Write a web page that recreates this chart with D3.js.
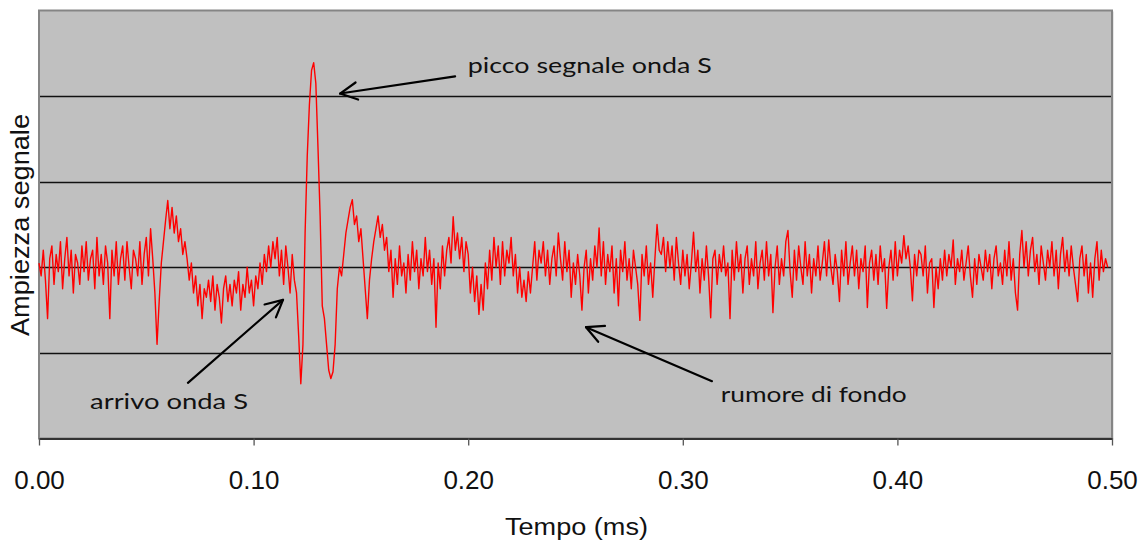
<!DOCTYPE html>
<html>
<head>
<meta charset="utf-8">
<script src="https://cdn.jsdelivr.net/npm/d3@7"></script>
<style>
  html, body { margin: 0; padding: 0; background: #fff; }
  svg { display: block; }
</style>
</head>
<body>
<svg id="chart" width="1146" height="545"></svg>
<script>
// ---------- data ----------
const sampleStep = 0.001; // ms between samples
const amplitude = [
  0.05, -0.1, 0.2, -0.15, -0.6, 0.1, 0.25, -0.2, 0.15, -0.05,
  0.3, -0.25, 0.1, 0.35, -0.1, 0.2, -0.3, 0.15, 0.05, -0.2,
  0.25, -0.05, 0.3, -0.15, 0.1, 0.2, -0.25, 0.35, -0.1, 0.15,
  -0.2, 0.25, 0.05, -0.6, 0.2, -0.1, 0.3, -0.2, 0.1, 0.25,
  -0.15, 0.3, 0.0, -0.25, 0.2, 0.1, -0.1, 0.3, -0.2, 0.15,
  0.35, -0.1, 0.45, 0.1, -0.3,
  -0.9, -0.4, 0.05, 0.3, 0.55,
  0.78, 0.45, 0.7, 0.4, 0.6, 0.3, 0.45, 0.15, 0.3,
  0.1, -0.15, 0.05, -0.3, -0.1, -0.45, -0.2, -0.6, -0.25, -0.35, -0.15,
  -0.4, -0.1, -0.5, -0.2, -0.35, -0.65, -0.25, -0.1, -0.4, -0.2,
  -0.45, -0.15, -0.3, -0.05, -0.5, -0.2, -0.35, 0.0, -0.3, -0.15,
  -0.45, -0.1, -0.25, 0.05, -0.2, 0.15, -0.05, 0.25, 0.0, 0.3,
  0.1, 0.35, -0.1, 0.2, -0.2, 0.25, 0.0, -0.3, 0.15, -0.15,
  -0.3, -0.8, -1.36, -0.9, 0.4, 1.3, 1.9, 2.3, 2.39, 2.15,
  1.4, 0.6, -0.45, -0.6, -0.9, -1.2, -1.3, -1.22, -0.9, -0.25,
  0.0, -0.1, 0.15, 0.4, 0.55, 0.7, 0.79, 0.5, 0.6, 0.3,
  0.45, 0.1, -0.25, -0.6, -0.15, 0.1, 0.3, 0.45, 0.6, 0.35,
  0.5, 0.2, 0.35, -0.05,
  0.2, -0.35, 0.1, -0.2, 0.25, -0.1, 0.05, -0.3, 0.15, -0.15, 0.3, -0.05, 0.2, -0.25, 0.1, -0.1,
  0.35, -0.05, 0.2, -0.2, 0.1, -0.7, 0.05, -0.25, 0.25, -0.1,
  0.2, 0.35, 0.05, 0.59, 0.2, 0.4, 0.1, 0.35, -0.05, 0.3,
  0.15, -0.3, 0.0, -0.4, -0.1, -0.55, -0.2, -0.5, 0.05, -0.25,
  0.2, -0.15, 0.35, 0.0, 0.25, -0.2, 0.3, -0.1, 0.2, 0.05,
  0.35, -0.1, 0.15, -0.3, 0.0, -0.35, -0.15, -0.4, -0.05, -0.3,
  0.0, 0.3, -0.15, 0.2, 0.05, 0.3, -0.1, 0.2, -0.2, 0.1,
  0.25, -0.1, 0.4, 0.1, -0.15, 0.3, -0.05, 0.2, -0.35, 0.05,
  -0.2, 0.15, -0.1, -0.5, 0.0, 0.2, -0.3, 0.1, -0.15, 0.25,
  0.0, 0.46, -0.1, 0.3, -0.2, 0.15, -0.05, 0.25, -0.3, 0.1,
  -0.45, 0.2, -0.05, 0.3, -0.15, 0.1, -0.25, 0.2, 0.0, -0.2,
  -0.62, 0.15, -0.1, 0.25, -0.2, 0.05, -0.35, 0.1, 0.5, 0.2,
  0.15, 0.35, -0.05, 0.3, 0.0, 0.25, -0.15, 0.35, 0.05, -0.2,
  0.2, -0.1, 0.15, -0.25, 0.05, 0.41, -0.05, 0.2, -0.3, 0.1,
  -0.15, 0.25, -0.1, -0.59, 0.1, 0.2, -0.2, 0.15, -0.05, 0.25,
  -0.1, 0.05, -0.6, 0.2, -0.15, 0.3, -0.05, 0.15, -0.3, 0.1,
  0.25, -0.2, 0.1, -0.1, 0.3, -0.25, 0.05, 0.2, -0.15, 0.3,
  -0.1, 0.15, -0.53, 0.0, 0.25, -0.2, 0.1, -0.1, 0.3, 0.43,
  -0.05, -0.35, 0.2, -0.15, 0.25, 0.0, -0.2, 0.3, -0.1, 0.15,
  -0.3, 0.1, -0.1, 0.25, -0.15, 0.05, 0.3, -0.1, 0.32, 0.0,
  -0.2, 0.15, -0.05, -0.4, 0.2, -0.1, 0.3, -0.2, 0.05, 0.25,
  -0.1, 0.2, -0.25, 0.1, -0.05, 0.25, -0.47, 0.05, 0.2, -0.15,
  0.15, -0.2, 0.25, -0.05, 0.1, -0.48, 0.0, 0.2, -0.15, 0.3,
  -0.1, 0.2, 0.05, 0.37, 0.1, 0.25, 0.0, -0.39, 0.15, -0.1,
  0.2, 0.15, -0.1, 0.25, -0.3, 0.05, 0.1, -0.47, 0.0, -0.25,
  0.1, -0.15, 0.2, -0.1, 0.15, 0.0, 0.32, -0.2, 0.1, -0.05,
  0.2, -0.15, 0.05, 0.25, -0.1, -0.35, 0.1, -0.2, 0.15, 0.0,
  -0.15, 0.2, -0.05, 0.15, -0.25, 0.1, 0.25, -0.1, 0.05, -0.2,
  0.2, -0.1, 0.3, -0.15, 0.1, -0.3, -0.5, 0.15, 0.43, 0.0,
  0.3, -0.1, 0.2, 0.35, -0.05, 0.15, -0.2, 0.25, 0.05, -0.15,
  0.2, 0.0, 0.3, -0.1, 0.2, -0.25, 0.15, 0.35, -0.05, 0.2,
  -0.1, 0.25, 0.0, -0.2, -0.4, 0.1, 0.25, -0.1, 0.15, -0.3,
  0.05, -0.35, 0.1, 0.3, -0.15, 0.2, -0.05, 0.1, 0.0
];
const xTicks = [0, 0.1, 0.2, 0.3, 0.4, 0.5];
const yGrid = [-1, 0, 1, 2];
const xDomain = [0, 0.5];
const yDomain = [-2, 3];
const xTitle = "Tempo (ms)";
const yTitle = "Ampiezza segnale";
const annotations = [
  { text: "picco segnale onda S", tip: [0.1403, 2.03], tail: [0.1939, 2.23], label: [0.1998, 2.27], w: 244 },
  { text: "arrivo onda S",        tip: [0.1137, -0.38], tail: [0.0694, -1.35], label: [0.0238, -1.655], w: 158 },
  { text: "rumore di fondo",      tip: [0.2549, -0.70], tail: [0.3136, -1.33], label: [0.3177, -1.575], w: 186 }
];

// ---------- chart ----------
const svg = d3.select("#chart");
const L = 39, R = 1112, T = 10.5, B = 438.5;
const x = d3.scaleLinear().domain(xDomain).range([L, R]);
const y = d3.scaleLinear().domain(yDomain).range([B, T]);

// plot background + frame
svg.append("rect").attr("x", L + 1).attr("y", T + 1).attr("width", R - L + 1).attr("height", B - T)
  .attr("fill", "#e6e6e6");
svg.append("rect").attr("x", L).attr("y", T).attr("width", R - L).attr("height", B - T)
  .attr("fill", "#c0c0c0").attr("stroke", "#858585").attr("stroke-width", 2);

// gridlines
svg.append("g").selectAll("line").data(yGrid).join("line")
  .attr("x1", L + 1).attr("x2", R - 1)
  .attr("y1", d => Math.round(y(d)) + 0.5).attr("y2", d => Math.round(y(d)) + 0.5)
  .attr("stroke", "#111").attr("stroke-width", 1.6);

// signal
const line = d3.line().x((d, i) => x(i * sampleStep)).y(d => y(d));
svg.append("path").datum(amplitude).attr("d", line)
  .attr("fill", "none").attr("stroke", "#ff0000").attr("stroke-width", 1.4)
  .attr("stroke-linejoin", "round");

// x axis
const xAxis = d3.axisBottom(x).tickValues(xTicks).tickFormat(d3.format(".2f")).tickSize(7).tickSizeOuter(0);
const gx = svg.append("g").attr("transform", `translate(0,${B})`).call(xAxis);
gx.select(".domain").attr("stroke", "#333").attr("stroke-width", 2);
gx.selectAll(".tick line").attr("stroke", "#555").attr("stroke-width", 1.3);
gx.selectAll(".tick text").attr("font-family", "Liberation Sans, Arial, sans-serif")
  .attr("font-size", 26).attr("fill", "#111").attr("y", 0).attr("dy", "1.94em");

// axis titles
svg.append("text").attr("x", (L + R) / 2 + 1).attr("y", 535)
  .attr("text-anchor", "middle").attr("font-family", "Liberation Sans, Arial, sans-serif")
  .attr("font-size", 23).attr("textLength", 143).attr("lengthAdjust", "spacingAndGlyphs")
  .attr("fill", "#111").text(xTitle);
svg.append("text").attr("transform", "translate(29,225) rotate(-90)")
  .attr("text-anchor", "middle").attr("font-family", "Liberation Sans, Arial, sans-serif")
  .attr("font-size", 25).attr("textLength", 222).attr("lengthAdjust", "spacingAndGlyphs")
  .attr("fill", "#111").text(yTitle);

// annotations
const ag = svg.append("g");
annotations.forEach(a => {
  const tx = x(a.tip[0]), ty = y(a.tip[1]);
  const sx = x(a.tail[0]), sy = y(a.tail[1]);
  ag.append("line").attr("x1", sx).attr("y1", sy).attr("x2", tx).attr("y2", ty)
    .attr("stroke", "#000").attr("stroke-width", 2.2).attr("stroke-linecap", "round");
  const ang = Math.atan2(sy - ty, sx - tx);
  const len = 19, spread = 27 * Math.PI / 180;
  const p1 = [tx + len * Math.cos(ang - spread), ty + len * Math.sin(ang - spread)];
  const p2 = [tx + len * Math.cos(ang + spread), ty + len * Math.sin(ang + spread)];
  ag.append("path").attr("d", `M${p1[0]},${p1[1]}L${tx},${ty}L${p2[0]},${p2[1]}`)
    .attr("fill", "none").attr("stroke", "#000").attr("stroke-width", 2.2)
    .attr("stroke-linecap", "round").attr("stroke-linejoin", "round");
  ag.append("text").attr("x", x(a.label[0])).attr("y", y(a.label[1]))
    .attr("font-family", "Lato, 'Open Sans', sans-serif").attr("font-size", 21)
    .attr("textLength", a.w).attr("lengthAdjust", "spacingAndGlyphs")
    .attr("fill", "#111").text(a.text);
});
</script>
</body>
</html>
